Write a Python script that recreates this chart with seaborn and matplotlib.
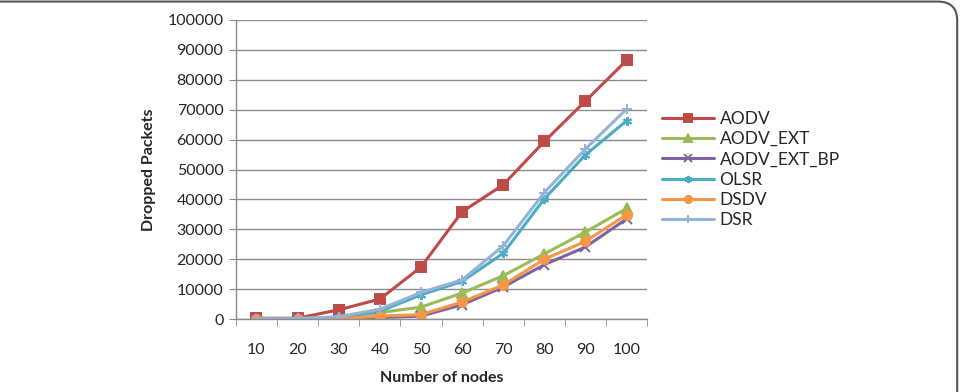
import pandas as pd
import matplotlib.pyplot as plt
import seaborn as sns
from matplotlib.patches import FancyBboxPatch

# Data
nodes = [10, 20, 30, 40, 50, 60, 70, 80, 90, 100]
aodv = [300, 300, 3100, 6700, 17400, 35900, 44900, 59400, 72900, 86500]
aodv_ext = [0, 0, 500, 2200, 4000, 8700, 14500, 21800, 29100, 37000]
aodv_ext_bp = [0, 0, 0, 500, 1000, 4800, 10700, 18200, 24100, 33500]
olsr = [0, 200, 600, 2600, 8100, 12600, 22000, 40200, 54900, 66300]
dsdv = [0, 0, 0, 1000, 1500, 5700, 11400, 20000, 26000, 34900]
dsr = [0, 200, 800, 3300, 8900, 13100, 24500, 42300, 56900, 70200]

series = {"AODV": aodv, "AODV_EXT": aodv_ext, "AODV_EXT_BP": aodv_ext_bp,
          "OLSR": olsr, "DSDV": dsdv, "DSR": dsr}
colors = {"AODV": "#BE4B48", "AODV_EXT": "#9BBB59", "AODV_EXT_BP": "#7F63A1",
          "OLSR": "#4BACC6", "DSDV": "#F79646", "DSR": "#95B3D7"}
markers = {"AODV": "s", "AODV_EXT": "^", "AODV_EXT_BP": "x",
           "OLSR": (6, 2, 0), "DSDV": "o", "DSR": "+"}

rows = []
for name, vals in series.items():
    for n, v in zip(nodes, vals):
        rows.append({"nodes": n, "packets": v, "protocol": name})
df = pd.DataFrame(rows)

sns.set_style("white")
plt.rcParams["font.family"] = ["Lato", "DejaVu Sans"]

fig = plt.figure(figsize=(9.63, 3.92), dpi=100)
ax = fig.add_axes([0.245, 0.186, 0.427, 0.763])

# one call per series (filled and line markers can't be mixed in one call)
for name in series:
    sub = df[df["protocol"] == name]
    sns.lineplot(data=sub, x="nodes", y="packets", color=colors[name],
                 marker=markers[name], linewidth=2.2, markersize=6.5,
                 markeredgewidth=1.4, markeredgecolor=colors[name],
                 label=name, ax=ax)

ax.set_xlim(5, 105)
ax.set_ylim(0, 100000)
ax.set_xticks(nodes)
ax.set_xticks([n - 5 for n in nodes] + [105], minor=True)
ax.set_yticks(range(0, 100001, 10000))
ax.tick_params(axis="x", which="major", length=0, pad=17, labelsize=11.5)
ax.tick_params(axis="x", which="minor", length=5, color="#888888", direction="out", bottom=True)
ax.tick_params(axis="y", length=5, color="#888888", direction="out", left=True, pad=4, labelsize=11.5)
ax.grid(axis="y", color="#8c8c8c", linewidth=1)
ax.set_axisbelow(True)
for side in ["top", "right"]:
    ax.spines[side].set_visible(False)
for side in ["left", "bottom"]:
    ax.spines[side].set_color("#8c8c8c")
    ax.spines[side].set_linewidth(1)

ax.set_xlabel("Number of nodes", fontsize=11.5, fontweight="bold", labelpad=10)
ax.set_ylabel("Dropped Packets", fontsize=11.5, fontweight="bold", labelpad=8)

ax.legend(loc="upper left", bbox_to_anchor=(1.02, 0.72), frameon=False,
          fontsize=12.5, handlelength=3, handletextpad=0.3, labelspacing=0.25,
          markerscale=0.8, borderaxespad=0)

# rounded frame around the figure
frame = FancyBboxPatch((-0.02, -0.2), 1.014, 1.196, boxstyle="round,pad=0,rounding_size=0.02",
                       transform=fig.transFigure, fill=False, edgecolor="#555555",
                       linewidth=1.5, mutation_aspect=963 / 392)
fig.patches.append(frame)

plt.savefig("out.png", dpi=100)
